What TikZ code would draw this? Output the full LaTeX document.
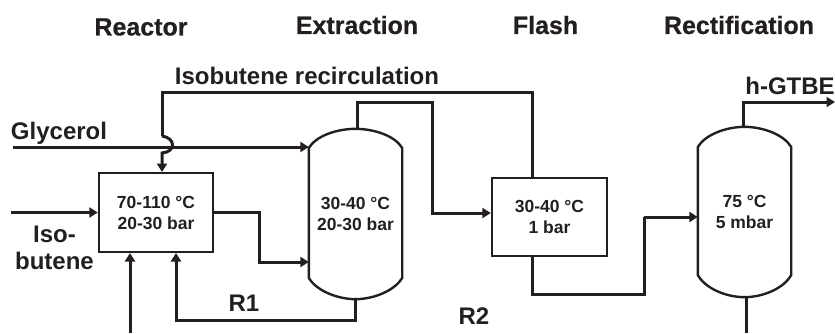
\documentclass[tikz,border=0pt]{standalone}
\usepackage{fontspec}
\setmainfont{Liberation Sans}
\newfontfamily\heavyfont[BoldFont={Liberation Sans Bold},BoldFeatures={FakeBold=0.6}]{Liberation Sans}
\usetikzlibrary{arrows.meta,calc}
\definecolor{ink}{HTML}{231F20}
\tikzset{
  unitbox/.style={draw=ink,line width=2.4pt,rectangle,inner sep=0pt,align=center,font=\bfseries\fontsize{17.5}{21}\selectfont,text=ink},
  vesselbody/.style={rectangle,inner sep=0pt,align=center,font=\bfseries\fontsize{17.5}{21}\selectfont,text=ink},
  vesselline/.style={draw=ink,line width=2.4pt},
  pipe/.style={draw=ink,line width=3pt,line join=miter},
  flow/.style={pipe,-{Triangle[length=8.5pt,width=10pt]}},
  title/.style={font=\heavyfont\bfseries\fontsize{25}{26}\selectfont,text=ink,inner sep=0pt},
  lab/.style={font=\bfseries\fontsize{24}{27}\selectfont,text=ink,inner sep=0pt,align=center},
}
\begin{document}
\begin{tikzpicture}[x=1pt,y=-1pt]
\useasboundingbox (0,0) rectangle (835,333);
% titles
\node[title] (t1) at (141,27) {Reactor};
\node[title] (t2) at (357,25) {Extraction};
\node[title] (t3) at (545.5,25) {Flash};
\node[title] (t4) at (739,25) {Rectification};
% units
\node[unitbox,minimum width=114pt,minimum height=79pt] (reactor) at (156,212.5) {70-110 °C\\20-30 bar};
\node[unitbox,minimum width=115pt,minimum height=78pt] (flash) at (549.5,217) {30-40 °C\\1 bar};
\node[vesselbody,minimum width=93pt,minimum height=170pt] (ext) at (355.5,214) {30-40 °C\\20-30 bar};
\node[vesselbody,minimum width=93pt,minimum height=170pt] (rect) at (744.5,212) {75 °C\\5 mbar};
\draw[vesselline] (ext.west|-0,148) .. controls (316,136) and (336,129) .. (ext.north) .. controls (375,129) and (395,136) .. (ext.east|-0,148) -- (ext.east|-0,278) .. controls (395,290) and (375,299) .. (ext.south) .. controls (336,299) and (316,290) .. (ext.west|-0,278) -- cycle;
\draw[vesselline] (rect.west|-0,147) .. controls (705,135) and (725,127) .. (rect.north) .. controls (764,127) and (784,135) .. (rect.east|-0,147) -- (rect.east|-0,275) .. controls (784,288) and (764,297) .. (rect.south) .. controls (725,297) and (705,288) .. (rect.west|-0,275) -- cycle;
% free ends
\coordinate (glyin) at (13,147);
\coordinate (isoin) at (11,212.5);
\coordinate (r2in) at (130,333);
\coordinate (hout) at (835,102);
\coordinate (botout) at (746,333);
% recirculation with jump over the glycerol line
\draw[pipe] (532,178) -- (532,92) -- (162,92) -- (162,136);
\draw[flow] (glyin) -- (ext.west|-0,147);
\draw[flow] (162,136) .. controls (176,138) and (176,152) .. (162,153) -- (162,172);
% other streams
\draw[flow] (isoin) -- (reactor.west);
\draw[flow] (reactor.east) -- (259,212.5) -- (259,262) -- (ext.west|-0,262);
\draw[flow] (ext.south) -- (355.5,320) -- (176,320) -- (176,253);
\draw[flow] (r2in) -- (130,253);
\draw[flow] (357,129) -- (357,102) -- (432,102) -- (432,213) -- (flash.west|-0,213);
\draw[pipe] (532,256) -- (532,294) -- (644,294) -- (644,217);
\draw[flow] (644,217) -- (rect.west|-0,217);
\draw[pipe] (743,127) -- (743,102) -- (825,102);
\draw[flow] (825,102) -- (hout);
\draw[pipe] (746,297) -- (botout);
% labels
\node[lab] (l1) at (307,76) {Isobutene recirculation};
\node[lab] (l2) at (59,133) {Glycerol};
\node[lab] (l3) at (54.5,248) {Iso-\\butene};
\node[lab] (l4) at (244,303) {R1};
\node[lab] (l5) at (474,316) {R2};
\node[lab] (l6) at (790,86) {h-GTBE};
\end{tikzpicture}
\end{document}
